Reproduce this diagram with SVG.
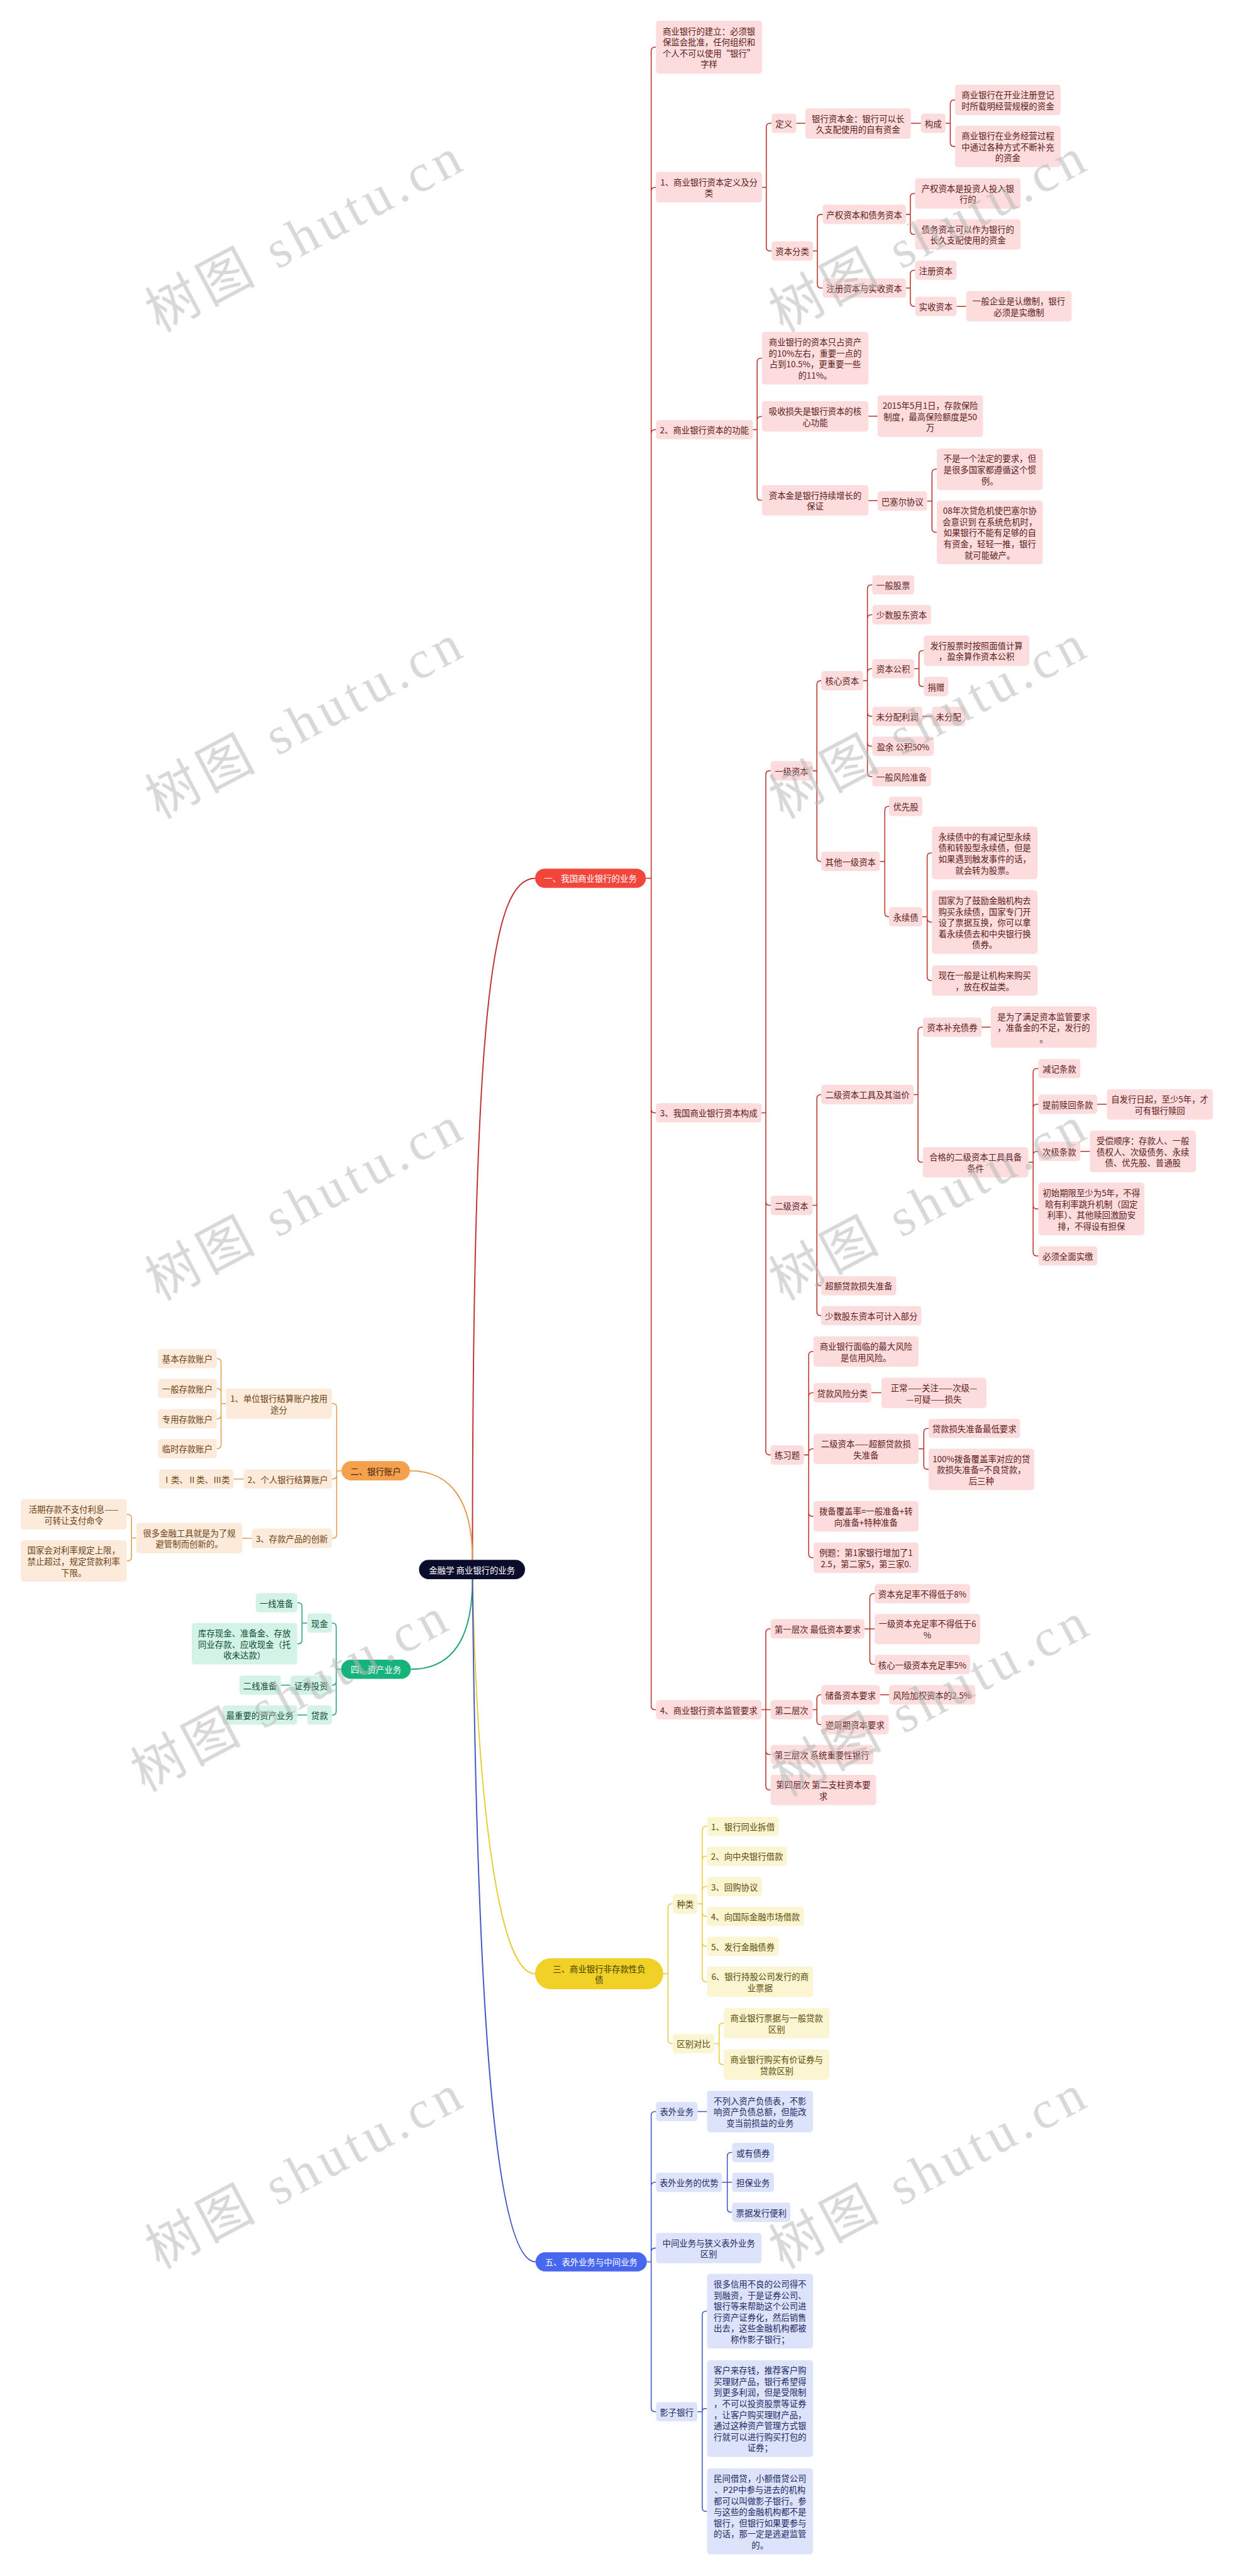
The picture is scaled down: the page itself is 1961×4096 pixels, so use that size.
<svg xmlns="http://www.w3.org/2000/svg" width="1961" height="4096" viewBox="0 0 1961 4096">
<style>
text{font-family:"Noto Sans CJK SC","Noto Sans",sans-serif;font-size:17.5px;text-anchor:middle;dominant-baseline:central}
.r rect{fill:#FCDCDC}.r text{fill:#5E1B1B}
.o rect{fill:#FCEBDB}.o text{fill:#6E4214}
.g rect{fill:#D2F3E6}.g text{fill:#0D4B35}
.y rect{fill:#FBF5D2}.y text{fill:#5A4B08}
.b rect{fill:#DDE3FB}.b text{fill:#1E2A66}
.w text{fill:#FFFFFF}
path{fill:none;stroke-width:2}
.cr{stroke:#BC322B}.co{stroke:#E39A4A}.cg{stroke:#1FA27A}.cy{stroke:#E6CC36}.cb{stroke:#3E55C4}
.root{stroke-width:2.5}
.wm text{font-family:"Liberation Serif","Noto Sans CJK SC",serif;font-size:110px;text-anchor:start;dominant-baseline:auto;fill:#b8b8b8}
</style>
<rect width="1961" height="4096" fill="#FFFFFF"/>
<g transform="scale(0.76602)">
<g id="connectors">
<path class="cr root" d="M981 3238C981 2100 1020 1823 1111 1823"/>
<path class="cr" d="M1341 1823H1352V106Q1352 98 1360 98H1362M1341 1823H1352V397Q1352 389 1360 389H1362M1341 1823H1352V900Q1352 892 1360 892H1362M1341 1823H1352V2302Q1352 2310 1360 2310H1362M1341 1823H1352V3541Q1352 3549 1360 3549H1362"/>
<path class="cr" d="M1582 389H1591V264Q1591 256 1599 256H1602M1582 389H1591V513Q1591 521 1599 521H1602"/>
<path class="cr" d="M1653 256H1672M1891 256H1912"/>
<path class="cr" d="M1963 256H1973V215.5Q1973 207.5 1981 207.5H1983M1963 256H1973V296Q1973 304 1981 304H1983"/>
<path class="cr" d="M1688 521H1697V453Q1697 445 1705 445H1708M1688 521H1697V590Q1697 598 1705 598H1708"/>
<path class="cr" d="M1881 445H1890V409.5Q1890 401.5 1898 401.5H1900M1881 445H1890V478.5Q1890 486.5 1898 486.5H1900"/>
<path class="cr" d="M1881 598H1890V569Q1890 561 1898 561H1900M1881 598H1890V628Q1890 636 1898 636H1900M1986 636H2006"/>
<path class="cr" d="M1563 892H1572V751.5Q1572 743.5 1580 743.5H1582M1563 892H1572V872.5Q1572 864.5 1580 864.5H1582M1563 892H1572V1030.5Q1572 1038.5 1580 1038.5H1582"/>
<path class="cr" d="M1803 864H1822M1803 1039H1822"/>
<path class="cr" d="M1925 1040H1935V982Q1935 974 1943 974H1945M1925 1040H1935V1097Q1935 1105 1943 1105H1945"/>
<path class="cr" d="M1581 2310H1590V1608Q1590 1600 1598 1600H1600M1581 2310H1590V2494Q1590 2502 1598 2502H1600M1581 2310H1590V3012Q1590 3020 1598 3020H1600"/>
<path class="cr" d="M1687 1600H1696V1421Q1696 1413 1704 1413H1705M1687 1600H1696V1780Q1696 1788 1704 1788H1705"/>
<path class="cr" d="M1792 1413H1801V1222Q1801 1214 1809 1214H1811M1792 1413H1801V1284Q1801 1276 1809 1276H1811M1792 1413H1801V1396Q1801 1388 1809 1388H1811M1792 1413H1801V1479Q1801 1487 1809 1487H1811M1792 1413H1801V1541Q1801 1549 1809 1549H1811M1792 1413H1801V1604Q1801 1612 1809 1612H1811"/>
<path class="cr" d="M1898 1388H1908V1358.5Q1908 1350.5 1916 1350.5H1918M1898 1388H1908V1417Q1908 1425 1916 1425H1918M1915 1487H1935"/>
<path class="cr" d="M1827 1788H1837V1682Q1837 1674 1845 1674H1846M1827 1788H1837V1895Q1837 1903 1845 1903H1846"/>
<path class="cr" d="M1915 1903H1925V1778.5Q1925 1770.5 1933 1770.5H1935M1915 1903H1925V1906Q1925 1914 1933 1914H1935M1915 1903H1925V2027.5Q1925 2035.5 1933 2035.5H1935"/>
<path class="cr" d="M1687 2502H1696V2280Q1696 2272 1704 2272H1705M1687 2502H1696V2661Q1696 2669 1704 2669H1705M1687 2502H1696V2723Q1696 2731 1704 2731H1705"/>
<path class="cr" d="M1897 2272H1906V2140Q1906 2132 1914 2132H1916M1897 2272H1906V2404.5Q1906 2412.5 1914 2412.5H1916M2038 2132H2057"/>
<path class="cr" d="M2135 2412.5H2145V2226Q2145 2218 2153 2218H2156M2135 2412.5H2145V2300Q2145 2292 2153 2292H2156M2135 2412.5H2145V2398Q2145 2390 2153 2390H2156M2135 2412.5H2145V2501.5Q2145 2509.5 2153 2509.5H2156M2135 2412.5H2145V2599Q2145 2607 2153 2607H2156M2278 2292H2298M2243 2390H2263"/>
<path class="cr" d="M1669 3020H1679V2813.5Q1679 2805.5 1687 2805.5H1689M1669 3020H1679V2899Q1679 2891 1687 2891H1689M1669 3020H1679V3015.5Q1679 3007.5 1687 3007.5H1689M1669 3020H1679V3139.5Q1679 3147.5 1687 3147.5H1689M1669 3020H1679V3225.5Q1679 3233.5 1687 3233.5H1689M1809 2891H1830"/>
<path class="cr" d="M1907 3007.5H1918V2973Q1918 2965 1926 2965H1928M1907 3007.5H1918V3042Q1918 3050 1926 3050H1928"/>
<path class="cr" d="M1581 3549H1590V3389Q1590 3381 1598 3381H1600M1581 3549H1600M1581 3549H1590V3634Q1590 3642 1598 3642H1600M1581 3549H1590V3707.5Q1590 3715.5 1598 3715.5H1600"/>
<path class="cr" d="M1795 3381H1806V3316Q1806 3308 1814 3308H1816M1795 3381H1816M1795 3381H1806V3447Q1806 3455 1814 3455H1816"/>
<path class="cr" d="M1687 3549H1696V3526Q1696 3518 1704 3518H1705M1687 3549H1696V3572Q1696 3580 1704 3580H1705M1827 3518H1846"/>
<path class="co root" d="M981 3238C981 3120 940 3053 851 3053"/>
<path class="co" d="M709 3053H699V2921.5Q699 2913.5 691 2913.5H689M709 3053H699V3062Q699 3070 691 3070H689M709 3053H699V3185Q699 3193 691 3193H689"/>
<path class="co" d="M469 2913.5H459V2828Q459 2820 451 2820H450M469 2913.5H459V2890Q459 2882 451 2882H450M469 2913.5H459V2937Q459 2945 451 2945H450M469 2913.5H459V2999Q459 3007 451 3007H450"/>
<path class="co" d="M506 3070H485M523 3193H503"/>
<path class="co" d="M283 3192.5H273V3151.5Q273 3143.5 265 3143.5H263M283 3192.5H273V3232Q273 3240 265 3240H263"/>
<path class="cg root" d="M981 3278C981 3400 940 3465 853 3465"/>
<path class="cg" d="M708 3465H698V3377Q698 3369 690 3369H689M708 3465H698V3490Q698 3498 690 3498H689M708 3465H698V3552Q698 3560 690 3560H689"/>
<path class="cg" d="M638 3369H627V3335Q627 3327 619 3327H617M638 3369H627V3404Q627 3412 619 3412H617M603 3498H583M638 3560H617"/>
<path class="cy root" d="M981 3278C990 3700 1030 4097 1111 4097"/>
<path class="cy" d="M1377 4097H1387V3960Q1387 3952 1395 3952H1397M1377 4097H1387V4234Q1387 4242 1395 4242H1397"/>
<path class="cy" d="M1448 3952H1458V3799Q1458 3791 1466 3791H1468M1448 3952H1458V3861Q1458 3853 1466 3853H1468M1448 3952H1458V3924Q1458 3916 1466 3916H1468M1448 3952H1458V3970Q1458 3978 1466 3978H1468M1448 3952H1458V4032Q1458 4040 1466 4040H1468M1448 3952H1458V4105.5Q1458 4113.5 1466 4113.5H1468"/>
<path class="cy" d="M1483 4242H1493V4207.5Q1493 4199.5 1501 4199.5H1503M1483 4242H1493V4277.5Q1493 4285.5 1501 4285.5H1503"/>
<path class="cb root" d="M981 3278C990 4200 1030 4695 1112 4695"/>
<path class="cb" d="M1343 4695H1352V4391Q1352 4383 1360 4383H1362M1343 4695H1352V4538Q1352 4530 1360 4530H1362M1343 4695H1352V4674.5Q1352 4666.5 1360 4666.5H1362M1343 4695H1352V4998Q1352 5006 1360 5006H1362"/>
<path class="cb" d="M1448 4383H1468M1499 4530H1510V4476Q1510 4468 1518 4468H1520M1499 4530H1520M1499 4530H1510V4584Q1510 4592 1518 4592H1520"/>
<path class="cb" d="M1448 5006H1458V4805.5Q1458 4797.5 1466 4797.5H1468M1448 5006H1458Q1458 4999.5 1464 4999.5H1468M1448 5006H1458V5205Q1458 5213 1466 5213H1468"/>
</g>
<g id="nodes">
<g id="root" class="w"><rect x="870" y="3238" width="220" height="40" rx="20" fill="#0B0B2C"/><text x="980" y="3258">金融学 商业银行的业务</text></g>
<g id="n1" class="w"><rect x="1111" y="1803" width="230" height="40" rx="20" fill="#F2463D"/><text x="1226" y="1823">一、我国商业银行的业务</text></g>
<g id="a0" class="r"><rect x="1362" y="43" width="220" height="110" rx="6"/><text><tspan x="1472" y="63.5">商业银行的建立：必须银</tspan><tspan x="1472" y="86.5">保监会批准，任何组织和</tspan><tspan x="1472" y="109.5">个人不可以使用“银行”</tspan><tspan x="1472" y="132.5">字样</tspan></text></g>
<g id="a1" class="r"><rect x="1362" y="357" width="220" height="63" rx="6"/><text><tspan x="1472" y="377">1、商业银行资本定义及分</tspan><tspan x="1472" y="400">类</tspan></text></g>
<g id="a2" class="r"><rect x="1362" y="872" width="201" height="40" rx="6"/><text x="1462.5" y="892">2、商业银行资本的功能</text></g>
<g id="a3" class="r"><rect x="1362" y="2290" width="219" height="40" rx="6"/><text x="1471.5" y="2310">3、我国商业银行资本构成</text></g>
<g id="a4" class="r"><rect x="1362" y="3529" width="219" height="40" rx="6"/><text x="1471.5" y="3549">4、商业银行资本监管要求</text></g>
<g id="b1" class="r"><rect x="1602" y="236" width="51" height="40" rx="6"/><text x="1627.5" y="256">定义</text></g>
<g id="b2" class="r"><rect x="1602" y="501" width="86" height="40" rx="6"/><text x="1645" y="521">资本分类</text></g>
<g id="c1" class="r"><rect x="1672" y="225" width="219" height="63" rx="6"/><text><tspan x="1781.5" y="245">银行资本金：银行可以长</tspan><tspan x="1781.5" y="268">久支配使用的自有资金</tspan></text></g>
<g id="c2" class="r"><rect x="1912" y="236" width="51" height="40" rx="6"/><text x="1937.5" y="256">构成</text></g>
<g id="d1" class="r"><rect x="1983" y="176" width="219" height="63" rx="6"/><text><tspan x="2092.5" y="196">商业银行在开业注册登记</tspan><tspan x="2092.5" y="219">时所载明经营规模的资金</tspan></text></g>
<g id="d2" class="r"><rect x="1983" y="261" width="219" height="86" rx="6"/><text><tspan x="2092.5" y="281">商业银行在业务经营过程</tspan><tspan x="2092.5" y="304">中通过各种方式不断补充</tspan><tspan x="2092.5" y="327">的资金</tspan></text></g>
<g id="c3" class="r"><rect x="1708" y="425" width="173" height="40" rx="6"/><text x="1794.5" y="445">产权资本和债务资本</text></g>
<g id="c4" class="r"><rect x="1708" y="578" width="173" height="40" rx="6"/><text x="1794.5" y="598">注册资本与实收资本</text></g>
<g id="d3" class="r"><rect x="1900" y="370" width="219" height="63" rx="6"/><text><tspan x="2009.5" y="390">产权资本是投资人投入银</tspan><tspan x="2009.5" y="413">行的</tspan></text></g>
<g id="d4" class="r"><rect x="1900" y="455" width="219" height="63" rx="6"/><text><tspan x="2009.5" y="475">债务资本可以作为银行的</tspan><tspan x="2009.5" y="498">长久支配使用的资金</tspan></text></g>
<g id="d5" class="r"><rect x="1900" y="541" width="86" height="40" rx="6"/><text x="1943" y="561">注册资本</text></g>
<g id="d6" class="r"><rect x="1900" y="616" width="86" height="40" rx="6"/><text x="1943" y="636">实收资本</text></g>
<g id="e1" class="r"><rect x="2006" y="604" width="219" height="63" rx="6"/><text><tspan x="2115.5" y="624">一般企业是认缴制，银行</tspan><tspan x="2115.5" y="647">必须是实缴制</tspan></text></g>
<g id="b3" class="r"><rect x="1582" y="689" width="221" height="109" rx="6"/><text><tspan x="1692.5" y="709">商业银行的资本只占资产</tspan><tspan x="1692.5" y="732">的10%左右，重要一点的</tspan><tspan x="1692.5" y="755">占到10.5%，更重要一些</tspan><tspan x="1692.5" y="778">的11%。</tspan></text></g>
<g id="b4" class="r"><rect x="1582" y="833" width="221" height="63" rx="6"/><text><tspan x="1692.5" y="853">吸收损失是银行资本的核</tspan><tspan x="1692.5" y="876">心功能</tspan></text></g>
<g id="b5" class="r"><rect x="1582" y="1007" width="221" height="63" rx="6"/><text><tspan x="1692.5" y="1027">资本金是银行持续增长的</tspan><tspan x="1692.5" y="1050">保证</tspan></text></g>
<g id="c5" class="r"><rect x="1822" y="821" width="219" height="86" rx="6"/><text><tspan x="1931.5" y="841">2015年5月1日，存款保险</tspan><tspan x="1931.5" y="864">制度，最高保险额度是50</tspan><tspan x="1931.5" y="887">万</tspan></text></g>
<g id="c6" class="r"><rect x="1822" y="1020" width="103" height="40" rx="6"/><text x="1873.5" y="1040">巴塞尔协议</text></g>
<g id="d7" class="r"><rect x="1945" y="931" width="220" height="86" rx="6"/><text><tspan x="2055" y="951">不是一个法定的要求，但</tspan><tspan x="2055" y="974">是很多国家都遵循这个惯</tspan><tspan x="2055" y="997">例。</tspan></text></g>
<g id="d8" class="r"><rect x="1945" y="1039" width="220" height="132" rx="6"/><text><tspan x="2055" y="1059">08年次贷危机使巴塞尔协</tspan><tspan x="2055" y="1082">会意识到 在系统危机时，</tspan><tspan x="2055" y="1105">如果银行不能有足够的自</tspan><tspan x="2055" y="1128">有资金，轻轻一推，银行</tspan><tspan x="2055" y="1151">就可能破产。</tspan></text></g>
<g id="b6" class="r"><rect x="1600" y="1580" width="87" height="40" rx="6"/><text x="1643.5" y="1600">一级资本</text></g>
<g id="c7" class="r"><rect x="1705" y="1393" width="87" height="40" rx="6"/><text x="1748.5" y="1413">核心资本</text></g>
<g id="d9" class="r"><rect x="1811" y="1194" width="87" height="40" rx="6"/><text x="1854.5" y="1214">一般股票</text></g>
<g id="d10" class="r"><rect x="1811" y="1256" width="122" height="40" rx="6"/><text x="1872" y="1276">少数股东资本</text></g>
<g id="d11" class="r"><rect x="1811" y="1368" width="87" height="40" rx="6"/><text x="1854.5" y="1388">资本公积</text></g>
<g id="e2" class="r"><rect x="1918" y="1319" width="219" height="63" rx="6"/><text><tspan x="2027.5" y="1339">发行股票时按照面值计算</tspan><tspan x="2027.5" y="1362">，盈余算作资本公积</tspan></text></g>
<g id="e3" class="r"><rect x="1918" y="1405" width="51" height="40" rx="6"/><text x="1943.5" y="1425">捐赠</text></g>
<g id="d12" class="r"><rect x="1811" y="1467" width="104" height="40" rx="6"/><text x="1863" y="1487">未分配利润</text></g>
<g id="e4" class="r"><rect x="1935" y="1467" width="69" height="40" rx="6"/><text x="1969.5" y="1487">未分配</text></g>
<g id="d13" class="r"><rect x="1811" y="1529" width="128" height="40" rx="6"/><text x="1875" y="1549">盈余 公积50%</text></g>
<g id="d14" class="r"><rect x="1811" y="1592" width="122" height="40" rx="6"/><text x="1872" y="1612">一般风险准备</text></g>
<g id="c8" class="r"><rect x="1705" y="1768" width="122" height="40" rx="6"/><text x="1766" y="1788">其他一级资本</text></g>
<g id="d15" class="r"><rect x="1846" y="1654" width="69" height="40" rx="6"/><text x="1880.5" y="1674">优先股</text></g>
<g id="d16" class="r"><rect x="1846" y="1883" width="69" height="40" rx="6"/><text x="1880.5" y="1903">永续债</text></g>
<g id="e5" class="r"><rect x="1935" y="1716" width="219" height="109" rx="6"/><text><tspan x="2044.5" y="1736">永续债中的有减记型永续</tspan><tspan x="2044.5" y="1759">债和转股型永续债，但是</tspan><tspan x="2044.5" y="1782">如果遇到触发事件的话，</tspan><tspan x="2044.5" y="1805">就会转为股票。</tspan></text></g>
<g id="e6" class="r"><rect x="1935" y="1848" width="219" height="132" rx="6"/><text><tspan x="2044.5" y="1868">国家为了鼓励金融机构去</tspan><tspan x="2044.5" y="1891">购买永续债，国家专门开</tspan><tspan x="2044.5" y="1914">设了票据互换，你可以拿</tspan><tspan x="2044.5" y="1937">着永续债去和中央银行换</tspan><tspan x="2044.5" y="1960">债券。</tspan></text></g>
<g id="e7" class="r"><rect x="1935" y="2004" width="219" height="63" rx="6"/><text><tspan x="2044.5" y="2024">现在一般是让机构来购买</tspan><tspan x="2044.5" y="2047">，放在权益类。</tspan></text></g>
<g id="b7" class="r"><rect x="1600" y="2482" width="87" height="40" rx="6"/><text x="1643.5" y="2502">二级资本</text></g>
<g id="c9" class="r"><rect x="1705" y="2252" width="192" height="40" rx="6"/><text x="1801" y="2272">二级资本工具及其溢价</text></g>
<g id="d17" class="r"><rect x="1916" y="2112" width="122" height="40" rx="6"/><text x="1977" y="2132">资本补充债券</text></g>
<g id="e8" class="r"><rect x="2057" y="2089" width="220" height="86" rx="6"/><text><tspan x="2167" y="2109">是为了满足资本监管要求</tspan><tspan x="2167" y="2132">，准备金的不足，发行的</tspan><tspan x="2167" y="2155">。</tspan></text></g>
<g id="d18" class="r"><rect x="1916" y="2381" width="219" height="63" rx="6"/><text><tspan x="2025.5" y="2401">合格的二级资本工具具备</tspan><tspan x="2025.5" y="2424">条件</tspan></text></g>
<g id="e9" class="r"><rect x="2156" y="2198" width="87" height="40" rx="6"/><text x="2199.5" y="2218">减记条款</text></g>
<g id="e10" class="r"><rect x="2156" y="2272" width="122" height="40" rx="6"/><text x="2217" y="2292">提前赎回条款</text></g>
<g id="f1" class="r"><rect x="2298" y="2261" width="220" height="63" rx="6"/><text><tspan x="2408" y="2281">自发行日起，至少5年，才</tspan><tspan x="2408" y="2304">可有银行赎回</tspan></text></g>
<g id="e11" class="r"><rect x="2156" y="2370" width="87" height="40" rx="6"/><text x="2199.5" y="2390">次级条款</text></g>
<g id="f2" class="r"><rect x="2263" y="2347" width="220" height="86" rx="6"/><text><tspan x="2373" y="2367">受偿顺序：存款人、一般</tspan><tspan x="2373" y="2390">债权人、次级债务、永续</tspan><tspan x="2373" y="2413">债、优先股、普通股</tspan></text></g>
<g id="e12" class="r"><rect x="2156" y="2455" width="220" height="109" rx="6"/><text><tspan x="2266" y="2475">初始期限至少为5年，不得</tspan><tspan x="2266" y="2498">晗有利率跳升机制（固定</tspan><tspan x="2266" y="2521">利率）、其他赎回激励安</tspan><tspan x="2266" y="2544">排，不得设有担保</tspan></text></g>
<g id="e13" class="r"><rect x="2156" y="2587" width="122" height="40" rx="6"/><text x="2217" y="2607">必须全面实缴</text></g>
<g id="c10" class="r"><rect x="1705" y="2649" width="156" height="40" rx="6"/><text x="1783" y="2669">超额贷款损失准备</text></g>
<g id="c11" class="r"><rect x="1705" y="2711" width="208" height="40" rx="6"/><text x="1809" y="2731">少数股东资本可计入部分</text></g>
<g id="b8" class="r"><rect x="1600" y="3000" width="69" height="40" rx="6"/><text x="1634.5" y="3020">练习题</text></g>
<g id="c12" class="r"><rect x="1689" y="2774" width="218" height="63" rx="6"/><text><tspan x="1798" y="2794">商业银行面临的最大风险</tspan><tspan x="1798" y="2817">是信用风险。</tspan></text></g>
<g id="c13" class="r"><rect x="1689" y="2871" width="120" height="40" rx="6"/><text x="1749" y="2891">贷款风险分类</text></g>
<g id="d19" class="r"><rect x="1830" y="2860" width="218" height="63" rx="6"/><text><tspan x="1939" y="2880">正常——关注——次级—</tspan><tspan x="1939" y="2903">—可疑——损失</tspan></text></g>
<g id="c14" class="r"><rect x="1689" y="2976" width="218" height="63" rx="6"/><text><tspan x="1798" y="2996">二级资本——超额贷款损</tspan><tspan x="1798" y="3019">失准备</tspan></text></g>
<g id="d20" class="r"><rect x="1928" y="2945" width="190" height="40" rx="6"/><text x="2023" y="2965">贷款损失准备最低要求</text></g>
<g id="d21" class="r"><rect x="1928" y="3007" width="219" height="86" rx="6"/><text><tspan x="2037.5" y="3027">100%拨备覆盖率对应的贷</tspan><tspan x="2037.5" y="3050">款损失准备=不良贷款，</tspan><tspan x="2037.5" y="3073">后三种</tspan></text></g>
<g id="c15" class="r"><rect x="1689" y="3116" width="218" height="63" rx="6"/><text><tspan x="1798" y="3136">拨备覆盖率=一般准备+转</tspan><tspan x="1798" y="3159">向准备+特种准备</tspan></text></g>
<g id="c16" class="r"><rect x="1689" y="3202" width="218" height="63" rx="6"/><text><tspan x="1798" y="3222">例题：第1家银行增加了1</tspan><tspan x="1798" y="3245">2.5，第二家5，第三家0.</tspan></text></g>
<g id="b9" class="r"><rect x="1600" y="3361" width="195" height="40" rx="6"/><text x="1697.5" y="3381">第一层次 最低资本要求</text></g>
<g id="c17" class="r"><rect x="1816" y="3288" width="198" height="40" rx="6"/><text x="1915" y="3308">资本充足率不得低于8%</text></g>
<g id="c18" class="r"><rect x="1816" y="3350" width="219" height="63" rx="6"/><text><tspan x="1925.5" y="3370">一级资本充足率不得低于6</tspan><tspan x="1925.5" y="3393">%</tspan></text></g>
<g id="c19" class="r"><rect x="1816" y="3435" width="198" height="40" rx="6"/><text x="1915" y="3455">核心一级资本充足率5%</text></g>
<g id="b10" class="r"><rect x="1600" y="3529" width="87" height="40" rx="6"/><text x="1643.5" y="3549">第二层次</text></g>
<g id="c20" class="r"><rect x="1705" y="3498" width="122" height="40" rx="6"/><text x="1766" y="3518">储备资本要求</text></g>
<g id="d22" class="r"><rect x="1846" y="3498" width="179" height="40" rx="6"/><text x="1935.5" y="3518">风险加权资本的2.5%</text></g>
<g id="c21" class="r"><rect x="1705" y="3560" width="140" height="40" rx="6"/><text x="1775" y="3580">逆周期资本要求</text></g>
<g id="b11" class="r"><rect x="1600" y="3622" width="213" height="40" rx="6"/><text x="1706.5" y="3642">第三层次 系统重要性银行</text></g>
<g id="b12" class="r"><rect x="1600" y="3684" width="219" height="63" rx="6"/><text><tspan x="1709.5" y="3704">第四层次 第二支柱资本要</tspan><tspan x="1709.5" y="3727">求</tspan></text></g>
<g id="n2"><rect x="709" y="3033" width="142" height="40" rx="20" fill="#F5A04C"/><text x="780" y="3053" fill="#3D2410">二、银行账户</text></g>
<g id="g1" class="o"><rect x="469" y="2882" width="220" height="63" rx="6"/><text><tspan x="579" y="2902">1、单位银行结算账户按用</tspan><tspan x="579" y="2925">途分</tspan></text></g>
<g id="h1" class="o"><rect x="328" y="2800" width="122" height="40" rx="6"/><text x="389" y="2820">基本存款账户</text></g>
<g id="h2" class="o"><rect x="328" y="2862" width="122" height="40" rx="6"/><text x="389" y="2882">一般存款账户</text></g>
<g id="h3" class="o"><rect x="328" y="2925" width="122" height="40" rx="6"/><text x="389" y="2945">专用存款账户</text></g>
<g id="h4" class="o"><rect x="328" y="2987" width="122" height="40" rx="6"/><text x="389" y="3007">临时存款账户</text></g>
<g id="g2" class="o"><rect x="506" y="3050" width="183" height="40" rx="6"/><text x="597.5" y="3070">2、个人银行结算账户</text></g>
<g id="h5" class="o"><rect x="330" y="3050" width="155" height="40" rx="6"/><text x="407.5" y="3070">Ⅰ类、Ⅱ类、Ⅲ类</text></g>
<g id="g3" class="o"><rect x="523" y="3173" width="166" height="40" rx="6"/><text x="606" y="3193">3、存款产品的创新</text></g>
<g id="h6" class="o"><rect x="283" y="3161" width="220" height="63" rx="6"/><text><tspan x="393" y="3181">很多金融工具就是为了规</tspan><tspan x="393" y="3204">避管制而创新的。</tspan></text></g>
<g id="i1" class="o"><rect x="43" y="3112" width="220" height="63" rx="6"/><text><tspan x="153" y="3132">活期存款不支付利息——</tspan><tspan x="153" y="3155">可转让支付命令</tspan></text></g>
<g id="i2" class="o"><rect x="43" y="3197" width="220" height="86" rx="6"/><text><tspan x="153" y="3217">国家会对利率规定上限，</tspan><tspan x="153" y="3240">禁止超过，规定贷款利率</tspan><tspan x="153" y="3263">下限。</tspan></text></g>
<g id="n4" class="w"><rect x="708" y="3445" width="145" height="40" rx="20" fill="#16B47C"/><text x="780.5" y="3465">四、资产业务</text></g>
<g id="j1" class="g"><rect x="638" y="3349" width="51" height="40" rx="6"/><text x="663.5" y="3369">现金</text></g>
<g id="k1" class="g"><rect x="531" y="3307" width="86" height="40" rx="6"/><text x="574" y="3327">一线准备</text></g>
<g id="k2" class="g"><rect x="398" y="3369" width="219" height="86" rx="6"/><text><tspan x="507.5" y="3389">库存现金、准备金、存放</tspan><tspan x="507.5" y="3412">同业存款、应收现金（托</tspan><tspan x="507.5" y="3435">收未达款）</tspan></text></g>
<g id="j2" class="g"><rect x="603" y="3478" width="86" height="40" rx="6"/><text x="646" y="3498">证券投资</text></g>
<g id="k3" class="g"><rect x="497" y="3478" width="86" height="40" rx="6"/><text x="540" y="3498">二线准备</text></g>
<g id="j3" class="g"><rect x="638" y="3540" width="51" height="40" rx="6"/><text x="663.5" y="3560">贷款</text></g>
<g id="k4" class="g"><rect x="462" y="3540" width="155" height="40" rx="6"/><text x="539.5" y="3560">最重要的资产业务</text></g>
<g id="n3"><rect x="1111" y="4065" width="266" height="64" rx="32" fill="#F1D126"/><text fill="#4A3D05"><tspan x="1244" y="4085.5">三、商业银行非存款性负</tspan><tspan x="1244" y="4108.5">债</tspan></text></g>
<g id="l1" class="y"><rect x="1397" y="3932" width="51" height="40" rx="6"/><text x="1422.5" y="3952">种类</text></g>
<g id="m1" class="y"><rect x="1468" y="3771" width="149" height="40" rx="6"/><text x="1542.5" y="3791">1、银行同业拆借</text></g>
<g id="m2" class="y"><rect x="1468" y="3833" width="166" height="40" rx="6"/><text x="1551" y="3853">2、向中央银行借款</text></g>
<g id="m3" class="y"><rect x="1468" y="3896" width="114" height="40" rx="6"/><text x="1525" y="3916">3、回购协议</text></g>
<g id="m4" class="y"><rect x="1468" y="3958" width="201" height="40" rx="6"/><text x="1568.5" y="3978">4、向国际金融市场借款</text></g>
<g id="m5" class="y"><rect x="1468" y="4020" width="149" height="40" rx="6"/><text x="1542.5" y="4040">5、发行金融债券</text></g>
<g id="m6" class="y"><rect x="1468" y="4082" width="220" height="63" rx="6"/><text><tspan x="1578" y="4102">6、银行持股公司发行的商</tspan><tspan x="1578" y="4125">业票据</tspan></text></g>
<g id="l2" class="y"><rect x="1397" y="4222" width="86" height="40" rx="6"/><text x="1440" y="4242">区别对比</text></g>
<g id="m7" class="y"><rect x="1503" y="4168" width="219" height="63" rx="6"/><text><tspan x="1612.5" y="4188">商业银行票据与一般贷款</tspan><tspan x="1612.5" y="4211">区别</tspan></text></g>
<g id="m8" class="y"><rect x="1503" y="4254" width="219" height="63" rx="6"/><text><tspan x="1612.5" y="4274">商业银行购买有价证券与</tspan><tspan x="1612.5" y="4297">贷款区别</tspan></text></g>
<g id="n5" class="w"><rect x="1112" y="4675" width="231" height="40" rx="20" fill="#4767EE"/><text x="1227.5" y="4695">五、表外业务与中间业务</text></g>
<g id="o1" class="b"><rect x="1362" y="4363" width="86" height="40" rx="6"/><text x="1405" y="4383">表外业务</text></g>
<g id="p1" class="b"><rect x="1468" y="4340" width="220" height="86" rx="6"/><text><tspan x="1578" y="4360">不列入资产负债表，不影</tspan><tspan x="1578" y="4383">响资产负债总额，但能改</tspan><tspan x="1578" y="4406">变当前损益的业务</tspan></text></g>
<g id="o2" class="b"><rect x="1362" y="4510" width="137" height="40" rx="6"/><text x="1430.5" y="4530">表外业务的优势</text></g>
<g id="p2" class="b"><rect x="1520" y="4448" width="87" height="40" rx="6"/><text x="1563.5" y="4468">或有债券</text></g>
<g id="p3" class="b"><rect x="1520" y="4510" width="87" height="40" rx="6"/><text x="1563.5" y="4530">担保业务</text></g>
<g id="p4" class="b"><rect x="1520" y="4572" width="121" height="40" rx="6"/><text x="1580.5" y="4592">票据发行便利</text></g>
<g id="o3" class="b"><rect x="1362" y="4635" width="219" height="63" rx="6"/><text><tspan x="1471.5" y="4655">中间业务与狭义表外业务</tspan><tspan x="1471.5" y="4678">区别</tspan></text></g>
<g id="o4" class="b"><rect x="1362" y="4986" width="86" height="40" rx="6"/><text x="1405" y="5006">影子银行</text></g>
<g id="p5" class="b"><rect x="1468" y="4720" width="220" height="155" rx="6"/><text><tspan x="1578" y="4740">很多信用不良的公司得不</tspan><tspan x="1578" y="4763">到融资，于是证券公司、</tspan><tspan x="1578" y="4786">银行等来帮助这个公司进</tspan><tspan x="1578" y="4809">行资产证券化，然后销售</tspan><tspan x="1578" y="4832">出去，这些金融机构都被</tspan><tspan x="1578" y="4855">称作影子银行；</tspan></text></g>
<g id="p6" class="b"><rect x="1468" y="4899" width="220" height="201" rx="6"/><text><tspan x="1578" y="4919">客户来存钱，推荐客户购</tspan><tspan x="1578" y="4942">买理财产品，银行希望得</tspan><tspan x="1578" y="4965">到更多利润，但是受限制</tspan><tspan x="1578" y="4988">，不可以投资股票等证券</tspan><tspan x="1578" y="5011">，让客户购买理财产品，</tspan><tspan x="1578" y="5034">通过这种资产管理方式银</tspan><tspan x="1578" y="5057">行就可以进行购买打包的</tspan><tspan x="1578" y="5080">证券；</tspan></text></g>
<g id="p7" class="b"><rect x="1468" y="5124" width="220" height="178" rx="6"/><text><tspan x="1578" y="5144">民间借贷，小额借贷公司</tspan><tspan x="1578" y="5167">、P2P中参与进去的机构</tspan><tspan x="1578" y="5190">都可以叫做影子银行。参</tspan><tspan x="1578" y="5213">与这些的金融机构都不是</tspan><tspan x="1578" y="5236">银行，但银行如果要参与</tspan><tspan x="1578" y="5259">的话，那一定是逃避监管</tspan><tspan x="1578" y="5282">的。</tspan></text></g>
</g>
<g id="watermark" class="wm" opacity="0.55">
<text transform="translate(330 690) rotate(-28)" textLength="720">树图 shutu.cn</text>
<text transform="translate(1625 690) rotate(-28)" textLength="720">树图 shutu.cn</text>
<text transform="translate(330 1700) rotate(-28)" textLength="720">树图 shutu.cn</text>
<text transform="translate(1625 1700) rotate(-28)" textLength="720">树图 shutu.cn</text>
<text transform="translate(330 2700) rotate(-28)" textLength="720">树图 shutu.cn</text>
<text transform="translate(1625 2700) rotate(-28)" textLength="720">树图 shutu.cn</text>
<text transform="translate(300 3720) rotate(-28)" textLength="720">树图 shutu.cn</text>
<text transform="translate(1630 3730) rotate(-28)" textLength="720">树图 shutu.cn</text>
<text transform="translate(330 4710) rotate(-28)" textLength="720">树图 shutu.cn</text>
<text transform="translate(1625 4710) rotate(-28)" textLength="720">树图 shutu.cn</text>
</g>
</g>
</svg>
